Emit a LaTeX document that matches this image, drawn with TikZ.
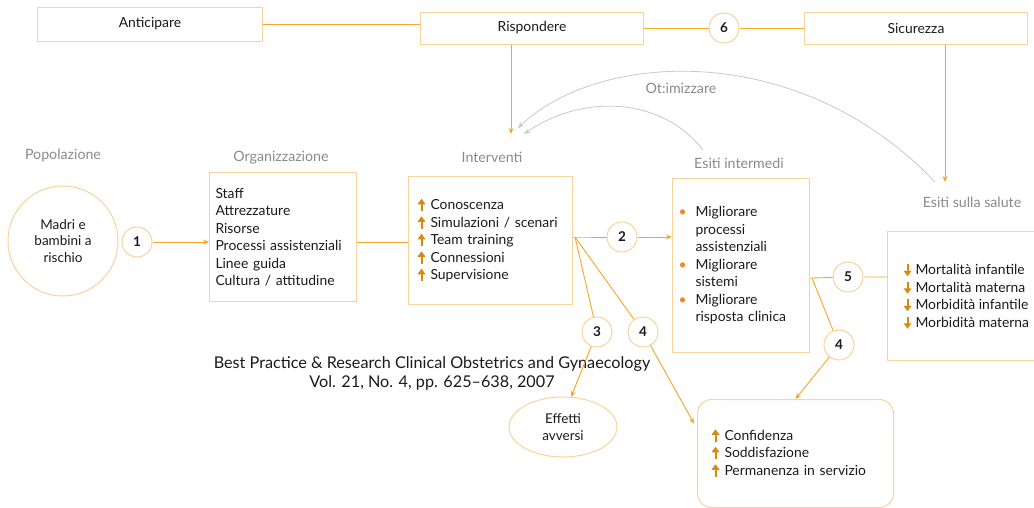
\documentclass[tikz,border=0pt]{standalone}
\usepackage{fontspec}
\setmainfont{Lato}
\usepackage{amsmath}
\usepackage{amssymb}
\usetikzlibrary{arrows.meta,shapes.geometric}
\definecolor{bordo}{HTML}{F7D29A}
\definecolor{linea}{HTML}{F5A623}
\definecolor{freccia}{HTML}{D98A0C}
\definecolor{pallino}{HTML}{F0892A}
\definecolor{grigio}{HTML}{8A8A8A}
\definecolor{grigiochiaro}{HTML}{C8C8C8}
\definecolor{testo}{HTML}{1A1A1A}
\newcommand{\su}{\tikz[baseline=0pt,x=1pt,y=1pt,sharp corners]{\fill[freccia] (-4,5.5) -- (0,11) -- (4,5.5) -- cycle; \draw[freccia,line width=2pt] (0,-1.5) -- (0,6.5);}\hspace{5pt}}
\newcommand{\giu}{\tikz[baseline=0pt,x=1pt,y=1pt,sharp corners]{\fill[freccia] (-4,4) -- (0,-1.5) -- (4,4) -- cycle; \draw[freccia,line width=2pt] (0,3) -- (0,10.5);}\hspace{4pt}}
\newcommand{\pall}{\textcolor{pallino}{\textbullet}}

\begin{document}
\begin{tikzpicture}[x=1pt,y=-1pt,>={Stealth[length=6pt,width=5pt]},
	every node/.style={text=testo,font=\fontsize{13.9}{17.5}\selectfont},
	scatola/.style={draw=bordo,line width=1pt,inner sep=6pt},
	num/.style={circle,draw=bordo,line width=1pt,minimum size=30pt,inner sep=0pt,font=\bfseries\fontsize{13.5}{15}\selectfont},
	etichetta/.style={text=grigio,font=\fontsize{14.2}{16}\selectfont},
	filo/.style={linea,line width=0.9pt},
	ritorno/.style={grigiochiaro,line width=0.8pt}]
	\useasboundingbox (0,0) rectangle (1034,507);
		\node[scatola,minimum width=225pt,minimum height=34pt] (ant) at (150,24) {Anticipare};
		\node[scatola,minimum width=223pt,minimum height=32pt] (risp) at (532,28) {Rispondere};
		\node[num] (n6) at (724,28) {6};
		\node[scatola,minimum width=223pt,minimum height=32pt] (sic) at (916,28) {Sicurezza};
		\node[etichetta] (lott) at (681,88) {Ot:imizzare};
		\node[etichetta] (lpop) at (63,155) {Popolazione};
		\node[etichetta] (lorg) at (281,158) {Organizzazione};
		\node[etichetta] (lint) at (492,157) {Interventi};
		\node[etichetta] (lmed) at (739,163) {Esiti intermedi};
		\node[etichetta] (lsal) at (972,202) {Esiti sulla salute};
		\node[circle,draw=bordo,line width=1pt,minimum size=110pt,align=center,font=\fontsize{13.5}{16.5}\selectfont] (madri) at (63,241) {Madri e\\bambini a\\rischio};
		\node[num] (n1) at (137,242) {1};
		\node[scatola,anchor=north west,text width=135pt,minimum height=129pt,align=left] (org) at (209,172) {Staff\\Attrezzature\\Risorse\\Processi assistenziali\\Linee guida\\Cultura / attitudine};
		\node[scatola,anchor=north west,inner xsep=9pt,text width=146pt,minimum height=128pt,align=left] (intv) at (408,176) {\su Conoscenza\\\su Simulazioni / scenari\\\su Team training\\\su Connessioni\\\su Supervisione};
		\node[scatola,anchor=north west,text width=125pt,minimum height=174pt,align=left] (intm) at (672,178) {\begin{tabular}{@{}l@{\hspace{9pt}}l@{}}\pall & Migliorare\\ & processi\\ & assistenziali\\ \pall & Migliorare\\ & sistemi\\ \pall & Migliorare\\ & risposta clinica\end{tabular}};
		\node[scatola,anchor=north west,inner xsep=16pt,minimum height=129pt,align=left] (sal) at (887,231) {\giu Mortalità infantile\\\giu Mortalità materna\\\giu Morbidità infantile\\\giu Morbidità materna};
		\node[scatola,rounded corners=14pt,anchor=north west,inner xsep=14pt,text width=168pt,minimum height=108pt,align=left] (conf) at (697,399) {\su Confidenza\\\su Soddisfazione\\\su Permanenza in servizio};
		\node[ellipse,draw=bordo,line width=1pt,minimum width=108pt,minimum height=60pt,align=center,font=\fontsize{13.5}{17}\selectfont] (eff) at (563,427) {Effetti\\avversi};
		\node[align=center,font=\fontsize{16.2}{19}\selectfont] (cit) at (432,373) {Best Practice \& Research Clinical Obstetrics and Gynaecology\\Vol. 21, No. 4, pp. 625--638, 2007};
		\node[num] (n2) at (622,237) {2};
		\node[num] (n3) at (597,332) {3};
		\node[num] (n4) at (643,332) {4};
		\node[num] (n5) at (848,277) {5};
		\node[num] (n4b) at (839,345) {4};
		\coordinate (sp) at (575,237);
		\coordinate (sp2) at (812,278);
		\coordinate (r1) at (511,134);
		\coordinate (s1) at (945,182);
		\coordinate (o1) at (935,182);
		\coordinate (o2) at (518,128);
		\coordinate (i1) at (703,150);
		\coordinate (i2) at (524,134);
		\draw[filo] (ant) -- (ant -| risp.west);
		\draw[filo] (risp) -- (n6) -- (sic);
		\draw[filo,->] (r1 |- risp.south) -- (r1);
		\draw[filo,->] (s1 |- sic.south) -- (s1);
		\draw[ritorno,->] (o1) .. controls (800,40) and (600,50) .. (o2);
		\draw[ritorno,->] (i1) .. controls (660,95) and (580,95) .. (i2);
		\draw[filo,->] (n1) -- (org.west |- n1);
		\draw[filo] (org.east |- n1) -- (intv.west |- n1);
		\draw[filo] (intv.east |- sp) -- (sp) -- (n2);
		\draw[filo,->] (n2) -- (intm.west |- n2);
		\draw[filo] (sp) -- (n3);
		\draw[filo] (sp) -- (n4);
		\draw[filo,->] (n3) -- (eff.75);
		\draw[filo,->,shorten >=6pt] (n4) -- (conf.166);
		\draw[filo] (intm.east |- sp2) -- (sp2) -- (n5) -- (sal.west |- n5);
		\draw[filo] (sp2) -- (n4b);
		\draw[filo,->] (n4b) -- (conf.north);
	\end{tikzpicture}
\end{document}
